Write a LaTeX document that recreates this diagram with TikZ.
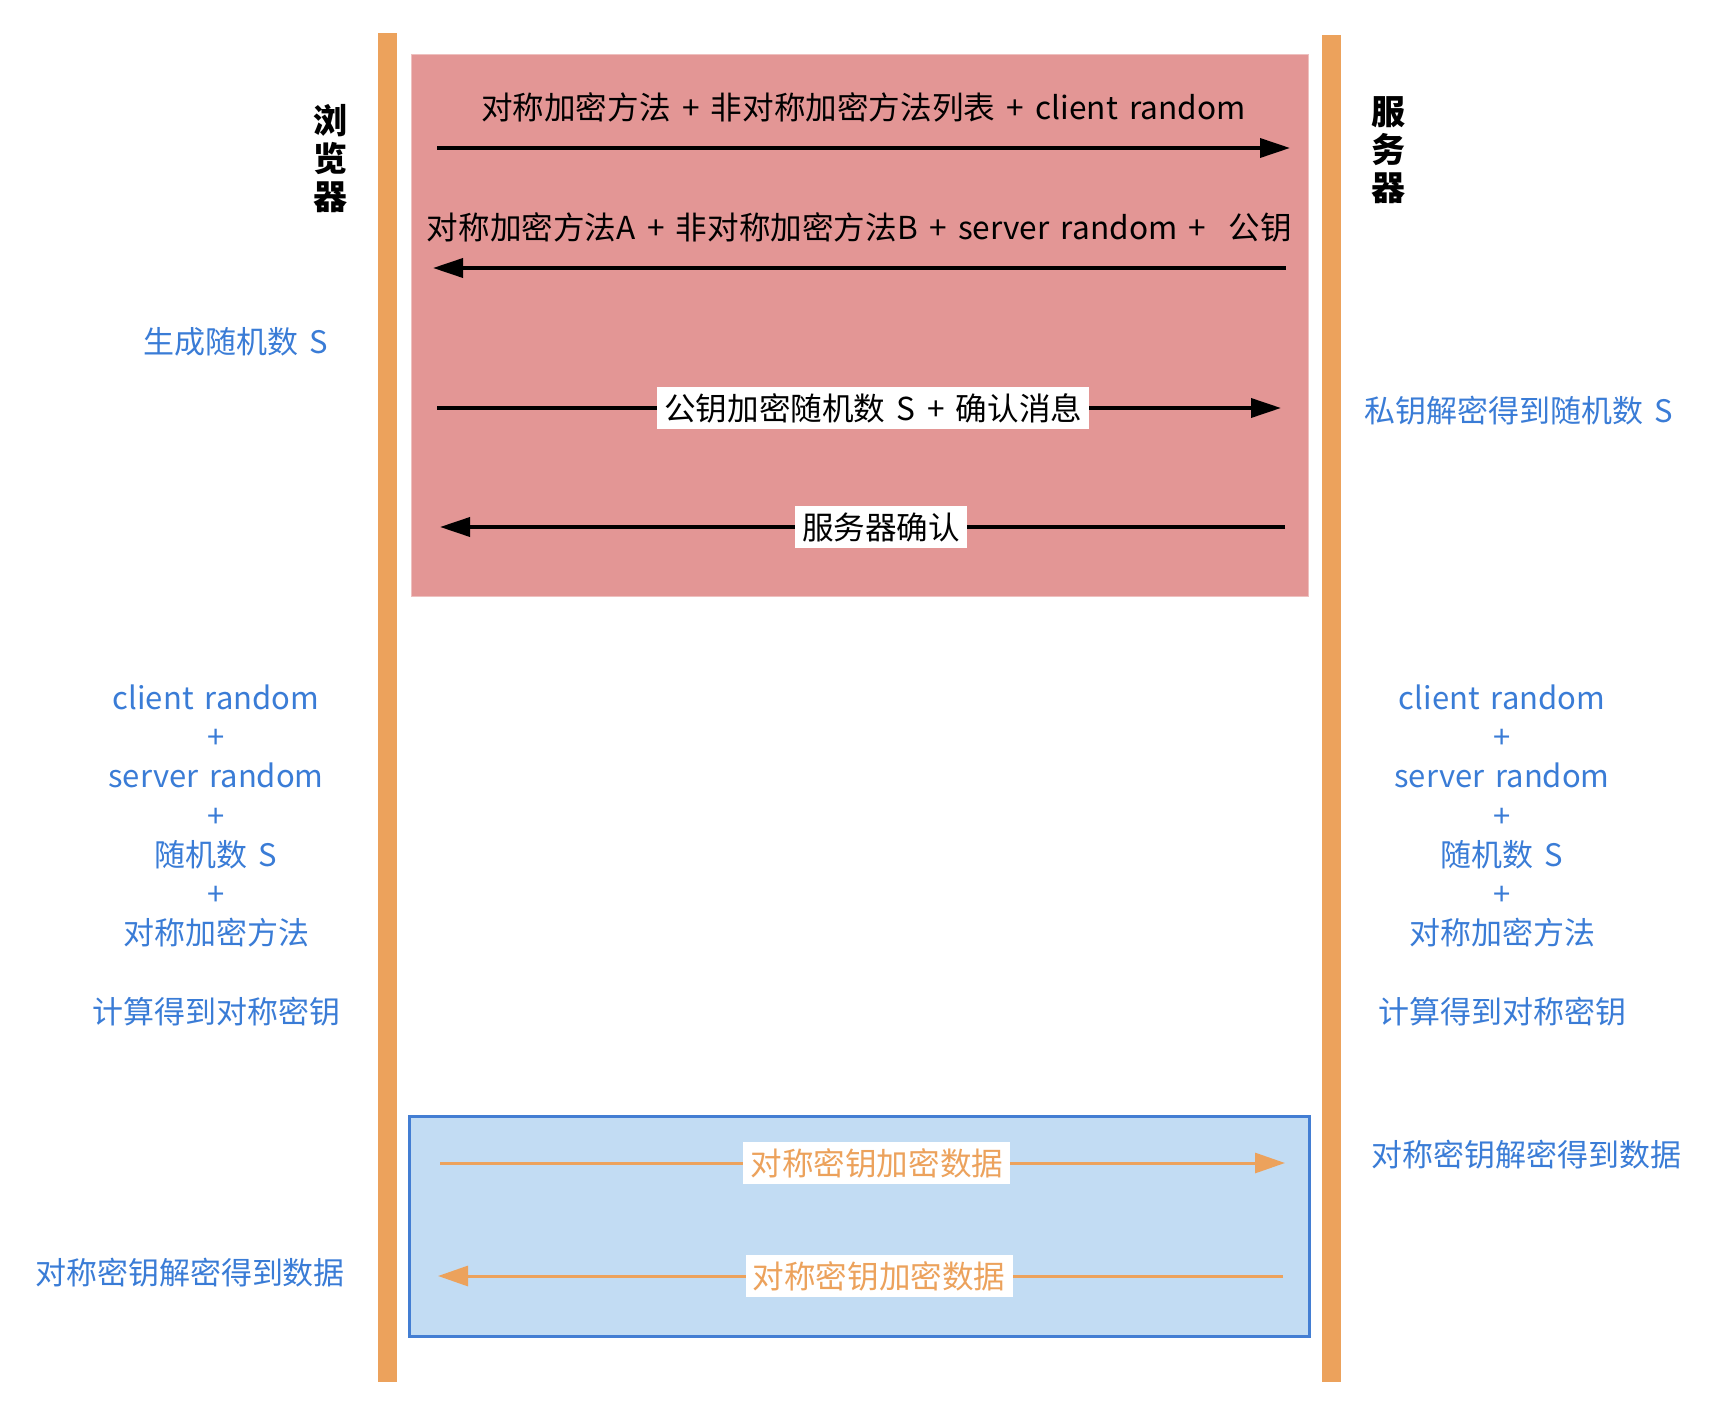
\documentclass[tikz,border=0pt]{standalone}
\usepackage{fontspec}
\setmainfont[WordSpace=1.6]{Noto Sans CJK SC}
\usetikzlibrary{arrows.meta, positioning}
\usepackage{xcolor}
\definecolor{barorange}{RGB}{236,162,92}
\definecolor{handred}{RGB}{227,150,149}
\definecolor{databg}{RGB}{194,220,243}
\definecolor{databorder}{RGB}{67,126,211}
\definecolor{noteblue}{RGB}{58,124,214}
\tikzset{
    lifeline/.style = {rectangle, fill=barorange, inner sep=0pt, minimum width=9.5pt},
    phase/.style = {rectangle, inner sep=0pt},
    party/.style = {font=\bfseries\fontsize{17}{19}\selectfont, align=center, inner sep=0pt},
    note/.style = {text=noteblue, font=\fontsize{15.5}{19.6}\selectfont, align=center, inner sep=1pt},
    msg/.style = {font=\fontsize{15.8}{19}\selectfont, inner xsep=3.5pt, inner ysep=3pt},
    arrow/.style = {line width=1.8pt, -{Triangle[length=15pt, width=9.5pt]}},
    dataarrow/.style = {line width=1.5pt, draw=barorange, -{Triangle[length=15pt, width=10pt]}}
}
\begin{document}
\begin{tikzpicture}[x=0.5pt, y=-0.5pt]
\useasboundingbox (0,0) rectangle (1720,1412);

% lifelines
\node (browserline) [lifeline, minimum height=674.5pt] at (387.5,707.5) {};
\node (serverline) [lifeline, minimum height=673.5pt] at (1331,708.5) {};

% handshake and data phases
\node (handshake) [phase, fill=handred, draw=handred!60!white, minimum width=448.5pt, minimum height=271pt] at (859.5,325) {};
\node (datastage) [phase, fill=databg, draw=databorder, line width=1.5pt, minimum width=450pt, minimum height=110pt] at (859,1226) {};

\node (browser) [party] at (330,159) {浏\\览\\器};
\node (server) [party] at (1388,150) {服\\务\\器};

% message end points
\coordinate (m1a) at (437,148);  \coordinate (m1b) at (1290,148);
\coordinate (m2a) at (1286,268); \coordinate (m2b) at (433,268);
\coordinate (m3a) at (437,408);  \coordinate (m3b) at (1281,408);
\coordinate (m4a) at (1285,527); \coordinate (m4b) at (440,527);
\coordinate (d1a) at (440,1163); \coordinate (d1b) at (1285,1163);
\coordinate (d2a) at (1283,1276); \coordinate (d2b) at (438,1276);

\draw [arrow] (m1a) -- node[msg, pos=0.5, yshift=20.5pt] {对称加密方法 + 非对称加密方法列表 + client random} (m1b);
\draw [arrow] (m2a) -- node[msg, pos=0.5, yshift=20.5pt] {对称加密方法A + 非对称加密方法B + server random + \ 公钥} (m2b);
\draw [arrow] (m3a) -- node[msg, fill=white, pos=0.517] {公钥加密随机数 S + 确认消息} (m3b);
\draw [arrow] (m4a) -- node[msg, fill=white, pos=0.478] {服务器确认} (m4b);

\draw [dataarrow] (d1a) -- node[msg, fill=white, text=barorange, pos=0.517] {对称密钥加密数据} (d1b);
\draw [dataarrow] (d2a) -- node[msg, fill=white, text=barorange, pos=0.478] {对称密钥加密数据} (d2b);

% browser side
\node (genS) [note] at (236,342) {生成随机数 S};
\node (browserkey) [note] at (216,816) {client random\\+\\server random\\+\\随机数 S\\+\\对称加密方法};
\node (browsercalc) [note] at (216,1012) {计算得到对称密钥};
\node (browserdec) [note] at (190,1273) {对称密钥解密得到数据};

% server side
\node (decS) [note] at (1519,411) {私钥解密得到随机数 S};
\node (serverkey) [note] at (1502,816) {client random\\+\\server random\\+\\随机数 S\\+\\对称加密方法};
\node (servercalc) [note] at (1502,1012) {计算得到对称密钥};
\node (serverdec) [note] at (1526,1155) {对称密钥解密得到数据};
\end{tikzpicture}
\end{document}
